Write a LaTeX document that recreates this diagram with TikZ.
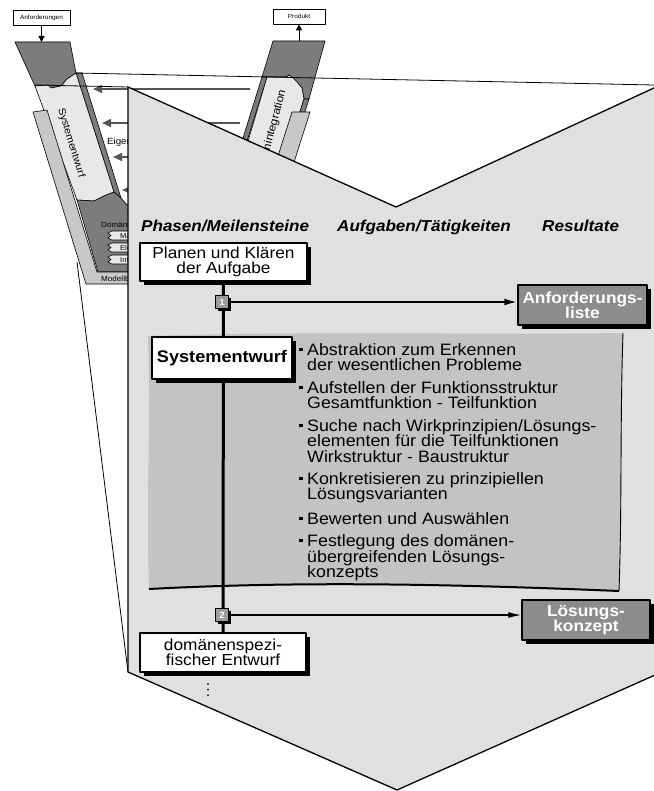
\documentclass[tikz,border=0pt]{standalone}
\usepackage{fontspec}
\setmainfont{Liberation Sans}[FakeStretch=1.08]
\usetikzlibrary{arrows.meta,shadows,calc}
\newcommand{\fsz}[2]{\fontsize{#1bp}{#2bp}\selectfont}
\definecolor{pent}{HTML}{E0E0E0}
\definecolor{notegrey}{HTML}{C3C3C3}
\definecolor{resgrey}{HTML}{8C8C8C}
\definecolor{msgrey}{HTML}{9C9C9C}
\definecolor{darkV}{HTML}{7C7C7C}
\definecolor{lightV}{HTML}{E8E8E8}
\definecolor{medV}{HTML}{C8C8C8}
\definecolor{arrV}{HTML}{555555}
\pgfdeclarelayer{bg}\pgfdeclarelayer{mid}\pgfsetlayers{bg,mid,main}
\tikzset{
  phbox/.style={draw, line width=1.5bp, fill=white, inner sep=0, align=center,
    drop shadow={shadow xshift=4bp, shadow yshift=-4bp, fill=black, opacity=1}},
  resbox/.style={phbox, fill=resgrey, text=white, font=\fsz{16}{15}\bfseries},
  msbox/.style={draw, line width=1bp, fill=msgrey, minimum size=13.5bp, inner sep=0,
    text=white, font=\fsz{9}{9}\bfseries,
    drop shadow={shadow xshift=2.5bp, shadow yshift=-2.5bp, fill=black, opacity=1}},
  bt/.style={anchor=base west, inner sep=0, font=\fsz{16.5}{15.3}},
  hd/.style={anchor=base west, inner sep=0, font=\fsz{15.8}{16}\bfseries\itshape},
  vpart/.style={draw=black, line width=0.6bp},
  vtxt/.style={anchor=base west, inner sep=0, font=\fsz{7.5}{8}},
  varr/.style={draw=arrV, line width=2.2bp, -{Triangle[length=9bp,width=8bp]}},
  projline/.style={line width=0.8bp},
}
\begin{document}
\begin{tikzpicture}[x=1bp,y=-1bp,line join=round]
\useasboundingbox (0,0) rectangle (654,791);

% ---------- nodes of the small V-model (top) ----------
\node[draw, line width=0.8bp, minimum width=57bp, minimum height=15bp, inner sep=0, font=\fsz{6}{6}] (anf) at (41.5,17.5) {Anforderungen};
\node[draw, line width=0.8bp, minimum width=52bp, minimum height=15bp, inner sep=0, font=\fsz{6}{6}] (prod) at (299,16.5) {Produkt};
\coordinate (anfE) at (41.5,42);
\coordinate (prodS) at (299,41);
\draw[line width=1bp, -{Triangle[length=6bp,width=6bp]}] (anf.south) -- (anfE);
\draw[line width=1bp, -{Triangle[length=6bp,width=6bp]}] (prodS) -- (prod.south);

\begin{pgfonlayer}{bg}
% left arm
\filldraw[vpart, fill=darkV] (15,42) -- (70,42) -- (76,73) -- (67,79) -- (61,86) -- (51,88) -- (48,85) -- (35,86) -- cycle;
\filldraw[vpart, fill=darkV] (76,73) -- (82,73) -- (121,198) -- (114,192) -- cycle;
\filldraw[vpart, fill=lightV] (35,86) -- (48,85) -- (51,88) -- (61,86) -- (67,79) -- (76,73) -- (114,192) -- (104,196) -- (94,201) -- (77,200) -- cycle;
\filldraw[vpart, fill=darkV] (77,200) -- (94,201) -- (104,196) -- (114,192) -- (121,198) -- (127,205) -- (135,205) -- (135,272) -- (98,272) -- cycle;
\filldraw[vpart, fill=medV] (33,112) -- (47,110) -- (97,272) -- (135,272) -- (135,284) -- (86,284) -- cycle;
\node[rotate=-73, inner sep=0, font=\fsz{10}{10}] (vsys) at (71,143) {Systementwurf};
\node[vtxt] (vdom) at (101,227) {Domänen};
\node[vtxt] (vmod) at (101,281.5) {Modellb};
\filldraw[vpart, fill=lightV] (112,231) -- (135,231) -- (135,240) -- (112,240) -- (108,238) -- (111,235.5) -- (108,233) -- cycle;
\filldraw[vpart, fill=lightV] (112,243) -- (135,243) -- (135,252) -- (112,252) -- (108,250) -- (111,247.5) -- (108,245) -- cycle;
\filldraw[vpart, fill=lightV] (112,255) -- (135,255) -- (135,264) -- (112,264) -- (108,262) -- (111,259.5) -- (108,257) -- cycle;
\node[vtxt, font=\fsz{7}{7}] (vd1) at (120,238.5) {Masc};
\node[vtxt, font=\fsz{7}{7}] (vd2) at (120,250.5) {Elek};
\node[vtxt, font=\fsz{7}{7}] (vd3) at (120,262.5) {Inf};
% right arm
\filldraw[vpart, fill=darkV] (273,41) -- (325,41) -- (309,99) -- (304,99) -- (302,88) -- (297,82) -- (292,77) -- (289,75) -- (286,77) -- (262,77) -- cycle;
\filldraw[vpart, fill=darkV] (262,77) -- (267,77) -- (238,170) -- (233,170) -- cycle;
\filldraw[vpart, fill=lightV] (267,77) -- (286,77) -- (289,75) -- (292,77) -- (297,82) -- (302,88) -- (304,99) -- (280,175) -- (238,175) -- cycle;
\filldraw[vpart, fill=darkV] (304,99) -- (309,99) -- (285,175) -- (280,175) -- cycle;
\filldraw[vpart, fill=medV] (292,112) -- (310,112) -- (290,175) -- (272,175) -- cycle;
\node[rotate=75, anchor=east, inner sep=0, font=\fsz{11}{11}] (vint) at (283,90) {Systemintegration};
% arrows of the V-model
\coordinate (a1s) at (250,89);  \coordinate (a1e) at (93,89);
\coordinate (a2s) at (240,123); \coordinate (a2e) at (102,123);
\coordinate (a3s) at (220,157); \coordinate (a3e) at (113,157);
\coordinate (a4s) at (220,190); \coordinate (a4e) at (122,190);
\draw[varr] (a1s) -- (a1e);
\draw[varr] (a2s) -- (a2e);
\draw[varr] (a3s) -- (a3e);
\draw[varr] (a4s) -- (a4e);
\node[vtxt, font=\fsz{9}{9}] (veig) at (107,144) {Eigenschaftsabsicherung};
% projection lines
\draw[projline] (35,85) -- (128,87);
\draw[projline] (76,73) -- (654,85);
\draw[projline] (77,262) -- (128,672);
% big pentagon
\filldraw[fill=pent, draw=black, line width=1.3bp] (128,87) -- (396,207) -- (655,87.5) -- (655,675) -- (397,790) -- (128,672) -- cycle;
% grey note sheet
\fill[notegrey] (148,336) .. controls (300,331) and (480,335) .. (623,333) .. controls (620,420) and (622,510) .. (619,591) .. controls (450,584) and (300,581) .. (149,589) .. controls (146,500) and (151,420) .. (148,336) -- cycle;
\draw[line width=0.9bp] (623,333) .. controls (620,420) and (622,510) .. (619,591);
\draw[line width=2bp] (149,589) .. controls (300,581) and (450,584) .. (619,591);
% bullets
\foreach \yy in {349.5,387.5,425.5,478.5,518.5,540.5}
  \fill (299.3,\yy-1.75) rectangle +(3.5,3.5);
% dots
\fill (208,684) circle (1);
\fill (208,689.5) circle (1);
\fill (208,695) circle (1);
\end{pgfonlayer}

% headers
\node[hd] (h1) at (141,231) {Phasen/Meilensteine};
\node[hd] (h2) at (337,231) {Aufgaben/Tätigkeiten};
\node[hd] (h3) at (542,231) {Resultate};

% phase boxes
\node[phbox, minimum width=167bp, minimum height=38bp, font=\fsz{16}{15}] (plan) at (223.5,262) {Planen und Klären\\der Aufgabe};
\node[phbox, line width=2bp, minimum width=140bp, minimum height=42bp, font=\fsz{16.8}{16}\bfseries] (sys) at (222,358) {Systementwurf};
\node[phbox, minimum width=166bp, minimum height=39bp, font=\fsz{16}{15}] (dom) at (223,652.5) {domänenspezi-\\fischer Entwurf};

% results
\node[resbox, minimum width=129bp, minimum height=40bp] (res1) at (582.5,305) {Anforderungs-\\liste};
\node[resbox, minimum width=128bp, minimum height=40bp] (res2) at (586,620) {Lösungs-\\konzept};

% milestones
\node[msbox] (m1) at (222,302) {1};
\node[msbox] (m2) at (222,615) {2};

\begin{pgfonlayer}{mid}
\draw[line width=3bp] (plan.south) -- (dom.north);
\end{pgfonlayer}

\draw[line width=2bp, -{Latex[length=13bp,width=7bp]}] (m1.east) -- (m1.east -| res1.west);
\draw[line width=1.3bp, -{Latex[length=13bp,width=6bp]}] (m2.east) -- (m2.east -| res2.west);

% task list
\node[bt] (t1) at (307,355) {Abstraktion zum Erkennen};
\node[bt] (t2) at (307,370) {der wesentlichen Probleme};
\node[bt] (t3) at (307,393) {Aufstellen der Funktionsstruktur};
\node[bt] (t4) at (307,408) {Gesamtfunktion - Teilfunktion};
\node[bt] (t5) at (307,431) {Suche nach Wirkprinzipien/Lösungs-};
\node[bt] (t6) at (307,446) {elementen für die Teilfunktionen};
\node[bt] (t7) at (307,462) {Wirkstruktur - Baustruktur};
\node[bt] (t8) at (307,484) {Konkretisieren zu prinzipiellen};
\node[bt] (t9) at (307,499) {Lösungsvarianten};
\node[bt] (t10) at (307,524) {Bewerten und Auswählen};
\node[bt] (t11) at (307,546) {Festlegung des domänen-};
\node[bt] (t12) at (307,562) {übergreifenden Lösungs-};
\node[bt] (t13) at (307,577) {konzepts};
\end{tikzpicture}
\end{document}
